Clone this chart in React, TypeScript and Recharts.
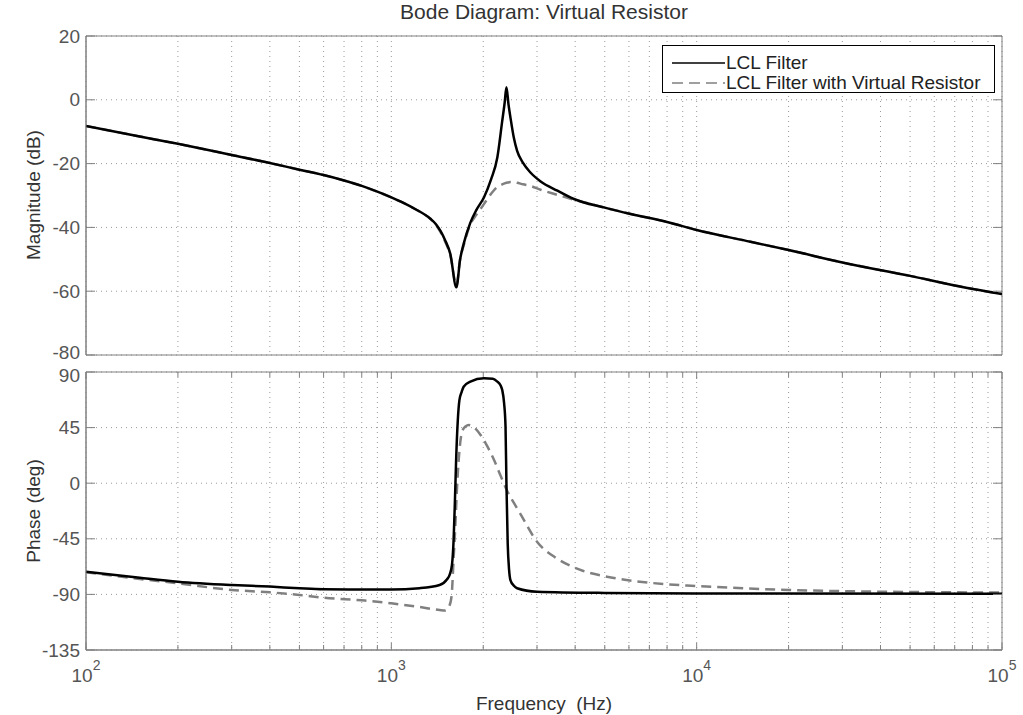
import { CartesianGrid, Legend, Line, LineChart, ReferenceArea, XAxis, YAxis } from 'recharts';

const FONT = '"Liberation Sans", Arial, Helvetica, sans-serif';
const AXIS = '#808080';
const GRID = '#9a9a9a';
const TICK_TEXT = '#555555';

// x grid / tick positions (log decades + minors)
const xTicks = [
  100, 200, 300, 400, 500, 600, 700, 800, 900,
  1000, 2000, 3000, 4000, 5000, 6000, 7000, 8000, 9000,
  10000, 20000, 30000, 40000, 50000, 60000, 70000, 80000, 90000,
  100000,
];
const magTicks = [-80, -60, -40, -20, 0, 20];
const phaseTicks = [-135, -90, -45, 0, 45, 90];

// magnitude (dB)
const magFreq = [
  100, 150, 200, 300, 400, 500, 600, 700, 800, 900, 1000, 1100, 1200, 1343, 1400, 1450, 1500, 1560, 1633, 1680,
  1727, 1815, 1900, 2010, 2120, 2224, 2308, 2350, 2382, 2420, 2455, 2520, 2582, 2700, 2855, 3083,
  3500, 3963, 5000, 6080, 8000, 10000, 15000, 20000, 30000, 50000, 70000, 100000,
];
const magLcl = [
  -8.2, -11.5, -13.8, -17.3, -19.8, -21.9, -23.6, -25.3, -27, -28.8, -30.6, -32.4, -34.3, -37.3, -39, -41.2, -44, -48.3, -58.8, -50,
  -45, -38.5, -34.5, -30.6, -25, -18.1, -6.6, -1, 3.9, -1.5, -5.5, -12, -16, -19.8, -22.8, -25.6,
  -28.5, -31.1, -33.8, -35.8, -38.3, -40.8, -44.5, -47.1, -51, -55.2, -58.2, -60.9,
];
const magVr = [
  -8.2, -11.5, -13.8, -17.3, -19.8, -21.9, -23.6, -25.3, -27, -28.8, -30.6, -32.4, -34.3, -37.4, -39.2, -41.5, -44.4, -48.7, -58, -50,
  -45.5, -39, -36, -32.7, -29.5, -27.3, -26.5, -26.2, -26, -25.9, -25.8, -25.8, -26, -26.5, -27, -28.2,
  -29.8, -31.3, -33.8, -35.8, -38.3, -40.8, -44.5, -47.1, -51, -55.2, -58.2, -60.9,
];

// phase (deg)
const phaseLclFreq = [
  100, 150, 200, 300, 400, 500, 600, 800, 1000, 1236, 1439, 1520, 1553, 1580, 1600, 1615, 1630, 1650,
  1671, 1700, 1725, 1815, 2010, 2150, 2224, 2280, 2308, 2340, 2366, 2382, 2405, 2430, 2455, 2520,
  2582, 3000, 5000, 10000, 100000,
];
const phaseLcl = [
  -71.6, -76.5, -79.7, -82.4, -83.7, -85, -85.8, -86, -86, -85, -82.4, -78, -74, -66, -45, -15, 18.8, 50,
  67.3, 74, 78.1, 82.2, 84.9, 84.5, 82.2, 79, 75.4, 65, 45.7, 0, -48.7, -70, -78.4, -83,
  -85, -87.8, -88.8, -89.2, -89.5,
];
const phaseVrFreq = [
  100, 150, 200, 300, 400, 500, 600, 800, 900, 1000, 1236, 1439, 1500, 1553, 1578, 1600, 1620, 1640,
  1662, 1705, 1750, 1793, 1880, 1960, 2050, 2170, 2280, 2390, 2520, 2640, 3000, 3480, 4140, 5300,
  7800, 10000, 20000, 40000, 100000,
];
const phaseVr = [
  -72, -77.5, -81, -86.4, -88.3, -90.5, -92.7, -94.8, -95.9, -97.2, -100.2, -102.6, -103, -98.6, -89, -60, -35, -5,
  18.8, 41.7, 46, 47.1, 44.5, 39, 31, 18.8, 6, -5.7, -16, -24.4, -47.3, -60.8, -70, -76.5,
  -81.6, -83.2, -86.4, -87.8, -88.5,
];

const toPoints = (fs: number[], vs: number[]) => fs.map((f, i) => ({ f, v: vs[i] }));

const PLOT_W = 916;

const makeXTick = (plotH: number, labels: boolean) => (props: any) => {
  const { x, y, payload } = props;
  const lg = Math.log10(payload.value);
  const exp = Math.round(lg);
  const major = Math.abs(lg - exp) < 1e-6;
  const len = major ? 7 : 5;
  return (
    <g>
      <line x1={x} x2={x} y1={y} y2={y - len} stroke={AXIS} />
      <line x1={x} x2={x} y1={y - plotH} y2={y - plotH + len} stroke={AXIS} />
      {labels && major && (
        <text x={x} y={y + 32} textAnchor="middle" fontFamily={FONT} fontSize={19} fill={TICK_TEXT}>
          10
          <tspan dy={-12} fontSize={14}>
            {exp}
          </tspan>
        </text>
      )}
    </g>
  );
};

// nudge = pixel shift for the end labels where the two panels meet
const makeYTick = (nudge: Record<number, number>) => (props: any) => {
  const { x, y, payload } = props;
  const shift = nudge[payload.value] || 0;
  return (
    <g>
      <line x1={x} x2={x + 9} y1={y} y2={y} stroke={AXIS} />
      <line x1={x + PLOT_W} x2={x + PLOT_W - 9} y1={y} y2={y} stroke={AXIS} />
      <text x={x - 6} y={y + shift} dy="0.35em" textAnchor="end" fontFamily={FONT} fontSize={19} fill={TICK_TEXT}>
        {payload.value}
      </text>
    </g>
  );
};

const LegendBox = () => (
  <div
    style={{
      position: 'relative',
      width: 331,
      height: 46,
      border: '1px solid #000',
      background: '#fff',
      fontFamily: FONT,
      fontSize: 19,
      color: '#222',
    }}
  >
    {[
      { label: 'LCL Filter', color: '#000', dash: undefined, top: 7 },
      { label: 'LCL Filter with Virtual Resistor', color: '#808080', dash: '11 6', top: 27 },
    ].map((r) => (
      <div key={r.label} style={{ position: 'absolute', left: 0, top: r.top, height: 20, display: 'flex', alignItems: 'center' }}>
        <svg width={63} height={20}>
          <line x1={9} x2={62} y1={10} y2={10} stroke={r.color} strokeWidth={1.3} strokeDasharray={r.dash} />
        </svg>
        <span style={{ lineHeight: '20px', whiteSpace: 'nowrap' }}>{r.label}</span>
      </div>
    ))}
  </div>
);

export default function App() {
  const magLclPts = toPoints(magFreq, magLcl);
  const magVrPts = toPoints(magFreq, magVr);
  const phLclPts = toPoints(phaseLclFreq, phaseLcl);
  const phVrPts = toPoints(phaseVrFreq, phaseVr);

  return (
    <div style={{ position: 'absolute', left: 0, top: 0, width: 1023, height: 715, background: '#fff' }}>
      <div style={{ position: 'absolute', left: 0, top: 0 }}>
        <LineChart width={1023} height={365} margin={{ top: 36, right: 21, bottom: 10, left: 0 }}>
          <CartesianGrid stroke={GRID} strokeDasharray="1 4" />
          <XAxis
            dataKey="f"
            type="number"
            scale="log"
            domain={[100, 100000]}
            allowDataOverflow
            ticks={xTicks}
            interval={0}
            height={0}
            tickSize={0}
            tickMargin={0}
            tickLine={false}
            axisLine={{ stroke: AXIS }}
            tick={makeXTick(319, false)}
          />
          <YAxis
            type="number"
            domain={[-80, 20]}
            ticks={magTicks}
            interval={0}
            width={86}
            tickSize={0}
            tickMargin={0}
            tickLine={false}
            axisLine={{ stroke: AXIS }}
            tick={makeYTick({ [-80]: -3 })}
          />
          <ReferenceArea x1={100} x2={100000} y1={-80} y2={20} fill="none" stroke={AXIS} ifOverflow="visible" />
          <Line data={magVrPts} dataKey="v" type="monotone" stroke="#808080" strokeWidth={2.5} strokeDasharray="10 6" dot={false} isAnimationActive={false} />
          <Line data={magLclPts} dataKey="v" type="monotone" stroke="#000" strokeWidth={2.5} dot={false} isAnimationActive={false} />
          <Legend
            layout="horizontal"
            verticalAlign="middle"
            align="center"
            content={() => <LegendBox />}
            wrapperStyle={{ left: 662, top: 45, width: 333, height: 48 }}
          />
        </LineChart>
      </div>
      <div style={{ position: 'absolute', left: 0, top: 360 }}>
        <LineChart width={1023} height={355} margin={{ top: 12, right: 21, bottom: 5, left: 0 }}>
          <CartesianGrid stroke={GRID} strokeDasharray="1 4" />
          <XAxis
            dataKey="f"
            type="number"
            scale="log"
            domain={[100, 100000]}
            allowDataOverflow
            ticks={xTicks}
            interval={0}
            height={60}
            tickSize={0}
            tickMargin={0}
            tickLine={false}
            axisLine={{ stroke: AXIS }}
            tick={makeXTick(278, true)}
          />
          <YAxis
            type="number"
            domain={[-135, 90]}
            ticks={phaseTicks}
            interval={0}
            width={86}
            tickSize={0}
            tickMargin={0}
            tickLine={false}
            axisLine={{ stroke: AXIS }}
            tick={makeYTick({ 90: 3 })}
          />
          <ReferenceArea x1={100} x2={100000} y1={-135} y2={90} fill="none" stroke={AXIS} ifOverflow="visible" />
          <Line data={phVrPts} dataKey="v" type="monotone" stroke="#808080" strokeWidth={2.5} strokeDasharray="10 6" dot={false} isAnimationActive={false} />
          <Line data={phLclPts} dataKey="v" type="monotone" stroke="#000" strokeWidth={2.5} dot={false} isAnimationActive={false} />
        </LineChart>
      </div>
      <svg width={1023} height={715} style={{ position: 'absolute', left: 0, top: 0, pointerEvents: 'none' }}>
        <g fontFamily={FONT} fontSize={19} fill="#333">
          <text x={544} y={19} textAnchor="middle" fontSize={21}>
            Bode Diagram: Virtual Resistor
          </text>
          <text x={40} y={195} textAnchor="middle" transform="rotate(-90 40 195)">
            Magnitude (dB)
          </text>
          <text x={40} y={511} textAnchor="middle" transform="rotate(-90 40 511)">
            Phase (deg)
          </text>
          <text x={544} y={710} textAnchor="middle" style={{ whiteSpace: 'pre' }}>
            {'Frequency  (Hz)'}
          </text>
        </g>
      </svg>
    </div>
  );
}
